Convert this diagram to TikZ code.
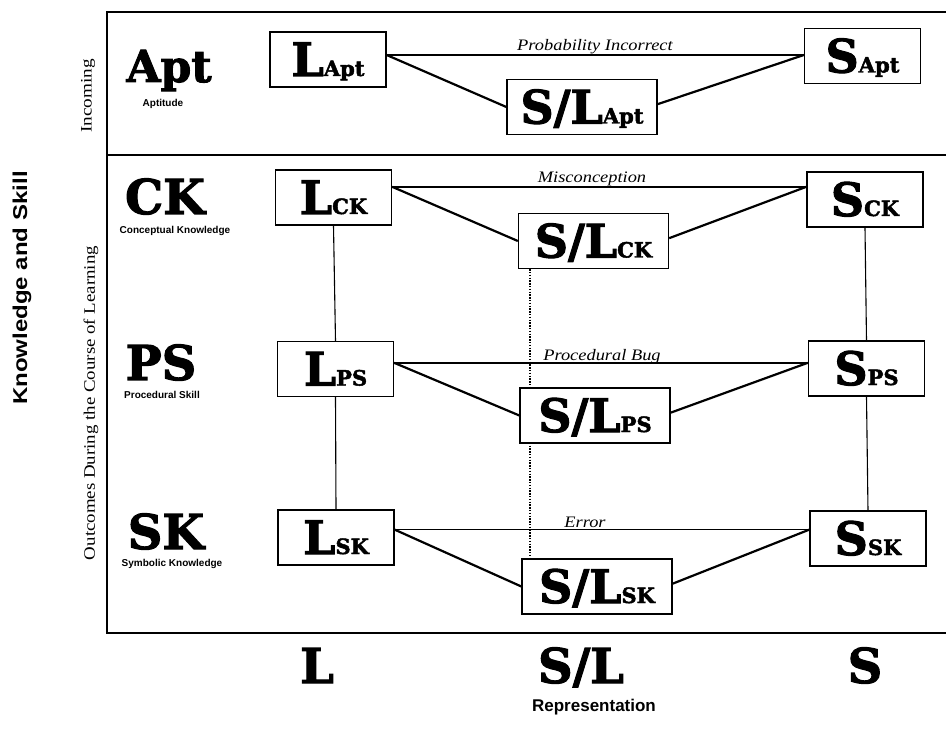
\documentclass[tikz,border=0pt]{standalone}
\usepackage{fontspec}
\usepackage{graphicx}
\usetikzlibrary{calc,backgrounds}
\setmainfont{Liberation Serif}
\newfontfamily\slab{DejaVu Serif}[BoldFeatures={FakeBold=2.2}]
\newfontfamily\hsans{Liberation Sans}
\newcommand{\bx}[2]{{\fontsize{46}{46}\selectfont #1}{\fontsize{21}{21}\selectfont #2}}
\newcommand{\widetxt}[1]{\scalebox{1.15}[1]{#1}}
\newcommand{\conn}[4]{%
  \coordinate (#1R) at ($(#1.north east)!#4!(#1.south east)$);
  \draw[hline] (#1R) -- (#1R -| #3.west);
  \draw[dline] (#1R) -- ($(#2.north west)!0.5!(#2.south west)$);
  \draw[dline] ($(#2.north east)!0.45!(#2.south east)$) -- (#1R -| #3.west);
}
\begin{document}
\begin{tikzpicture}[x=1pt,y=-1pt,
  boxn/.style={draw, line width=1.3pt, fill=white, font=\slab\bfseries,
    minimum width=116pt, minimum height=55pt, inner sep=0pt,
    text height=33pt, text depth=0pt},
  slboxn/.style={boxn, minimum width=150pt},
  hline/.style={line width=1.4pt},
  dline/.style={line width=2.2pt},
  vline/.style={line width=1.1pt},
  dotline/.style={line width=1.6pt, dash pattern=on 1.4pt off 1.4pt},
  frame/.style={line width=1.8pt},
  rowlbl/.style={font=\slab\bfseries\fontsize{48}{48}\selectfont, anchor=base, inner sep=0pt, text depth=0pt},
  rowsub/.style={font=\hsans\bfseries\fontsize{10}{10}\selectfont, inner sep=0pt},
  errlbl/.style={font=\fontsize{16}{16}\selectfont\itshape, anchor=base, inner sep=0pt},
  sidelbl/.style={font=\fontsize{16}{16}\selectfont, rotate=90, inner sep=0pt},
]
\useasboundingbox (0,0) rectangle (946,730);
% frame
\draw[frame] (946,12) -- (107,12) -- (107,633) -- (946,633);
\draw[frame] (107,155) -- (946,155);

% boxes
\node[boxn]   (lapt)  at (328,59.5)  {\bx{L}{Apt}};
\node[slboxn] (slapt) at (582,107)   {\bx{S/L}{Apt}};
\node[boxn]   (sapt)  at (862.5,56)  {\bx{S}{Apt}};
\node[boxn]   (lck)   at (333.5,197.5) {\bx{L}{CK}};
\node[slboxn] (slck)  at (593.5,241) {\bx{S/L}{CK}};
\node[boxn]   (sck)   at (865,199.5) {\bx{S}{CK}};
\node[boxn]   (lps)   at (335.5,369) {\bx{L}{PS}};
\node[slboxn] (slps)  at (595,415.5) {\bx{S/L}{PS}};
\node[boxn]   (sps)   at (866.5,368.5) {\bx{S}{PS}};
\node[boxn]   (lsk)   at (336,537.5) {\bx{L}{SK}};
\node[slboxn] (slsk)  at (597,586.5) {\bx{S/L}{SK}};
\node[boxn]   (ssk)   at (868,538.5) {\bx{S}{SK}};

\begin{scope}[on background layer]
\conn{lapt}{slapt}{sapt}{0.42}
\conn{lck}{slck}{sck}{0.31}
\conn{lps}{slps}{sps}{0.39}
\conn{lsk}{slsk}{ssk}{0.36}
\draw[vline] (lck.south) -- (lps.north);
\draw[vline] (lps.south) -- (lsk.north);
\draw[vline] (sck.south) -- (sps.north);
\draw[vline] (sps.south) -- (ssk.north);
\coordinate (dt) at ($(slck.south west)+(12,0)$);
\draw[dotline] (dt) -- (dt |- slsk.north);
\end{scope}

% line labels
\node[errlbl] (tpi) at (595,51)  {\widetxt{Probability Incorrect}};
\node[errlbl] (tmc) at (592,183) {\widetxt{Misconception}};
\node[errlbl] (tpb) at (602,360) {\widetxt{Procedural Bug}};
\node[errlbl] (ter) at (585,527) {\widetxt{Error}};

% row labels
\node[rowlbl, font=\slab\bfseries\fontsize{44}{44}\selectfont] (apt) at (169,82) {Apt};
\node[rowsub] (aptd) at (163,104) {Aptitude};
\node[rowlbl] (ck) at (165,214) {CK};
\node[rowsub] (ckd) at (175,231) {Conceptual Knowledge};
\node[rowlbl] (ps) at (161,380) {PS};
\node[rowsub] (psd) at (162,395) {Procedural Skill};
\node[rowlbl] (sk) at (166,549) {SK};
\node[rowsub] (skd) at (172,564) {Symbolic Knowledge};

% column labels
\node[rowlbl] (cl)  at (317,683) {L};
\node[rowlbl] (csl) at (581,683) {S/L};
\node[rowlbl] (cs)  at (865,683) {S};
\node[font=\hsans\bfseries\fontsize{17}{17}\selectfont, inner sep=0pt] (rep) at (594,707) {Representation};

% side labels
\node[sidelbl] (inc) at (88,96) {\scalebox{1.2}[1]{Incoming}};
\node[sidelbl] (out) at (91,403) {\scalebox{1.18}[1]{Outcomes During the Course of Learning}};
\node[font=\hsans\bfseries\fontsize{20}{20}\selectfont, rotate=90, inner sep=0pt] (ks) at (22,288) {\scalebox{1.2}[1]{Knowledge and Skill}};
\end{tikzpicture}
\end{document}
